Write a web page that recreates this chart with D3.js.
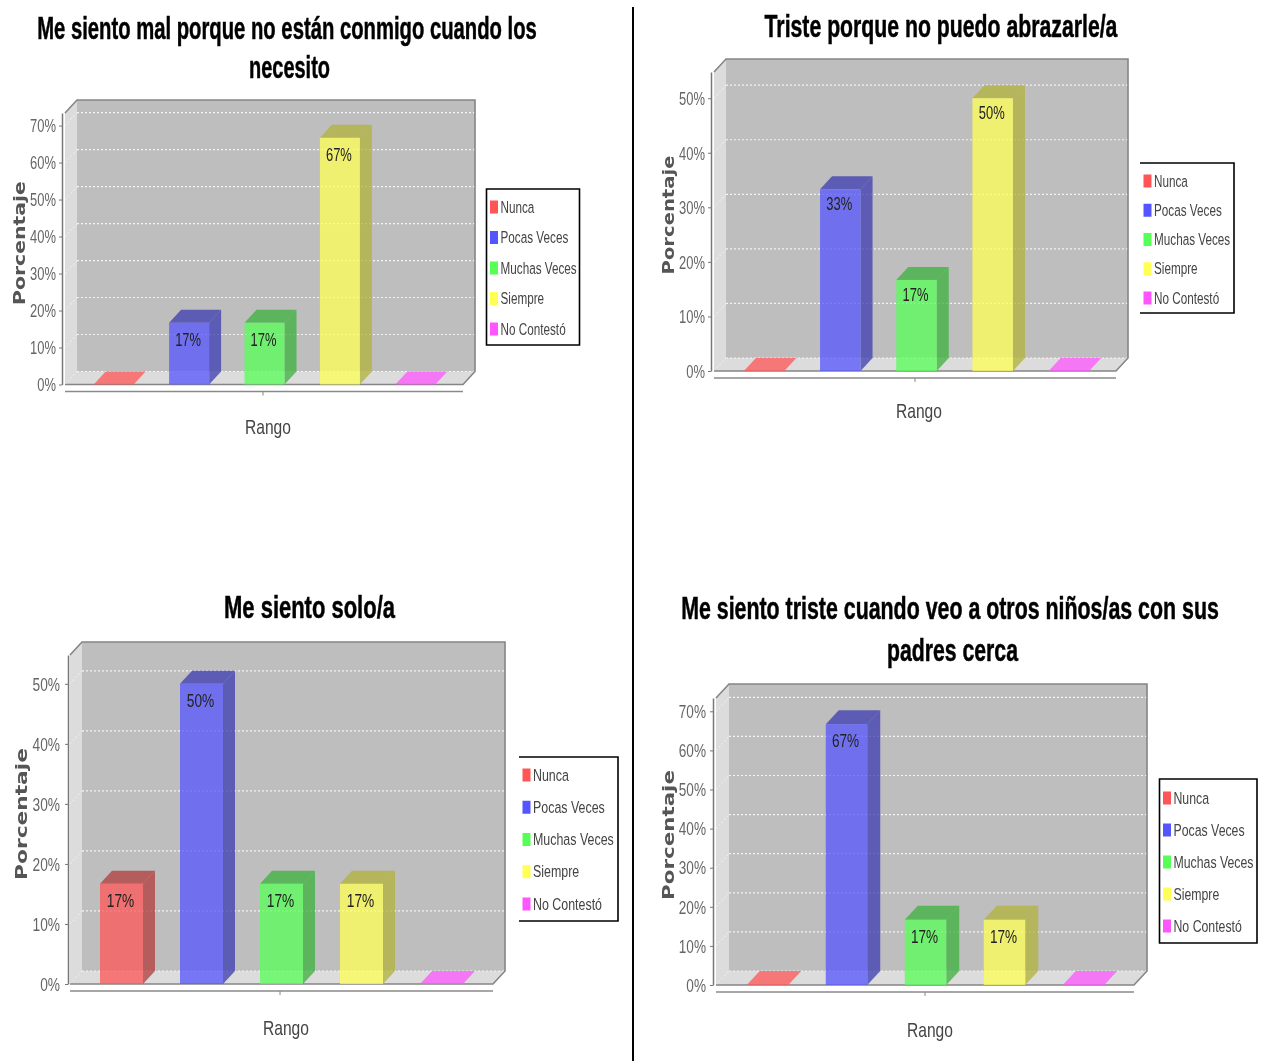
<!DOCTYPE html>
<html>
<head>
<meta charset="utf-8">
<script src="https://d3js.org/d3.v7.min.js"></script>
<style>
  body { margin: 0; background: #fff; }
  text { font-family: "Liberation Sans", sans-serif; }
</style>
</head>
<body>
<div id="chart"></div>
<script>
// datos
const rangos = ["Nunca", "Pocas Veces", "Muchas Veces", "Siempre", "No Contestó"];
const colores = ["#ff5555", "#5555ff", "#55ff55", "#ffff55", "#ff55ff"];
const oscuros = ["#b23b3b", "#3b3bb2", "#3bb23b", "#b2b23b", "#b23bb2"];

const valores1 = [0, 16.7, 16.7, 66.7, 0];
const valores2 = [0, 33.3, 16.7, 50, 0];
const valores3 = [16.7, 50, 16.7, 16.7, 0];
const valores4 = [0, 66.7, 16.7, 16.7, 0];

const ticks1 = [0, 10, 20, 30, 40, 50, 60, 70];
const ticks2 = [0, 10, 20, 30, 40, 50];

const titulo1 = ["Me siento mal porque no están conmigo cuando los", "necesito"];
const titulo2 = ["Triste porque no puedo abrazarle/a"];
const titulo3 = ["Me siento solo/a"];
const titulo4 = ["Me siento triste cuando veo a otros niños/as con sus", "padres cerca"];

// geometria de cada panel, medida en la imagen
const paneles = [
  { valores: valores1, ticks: ticks1, tope: 73.4, titulo: titulo1,
    tituloX: [287, 289.5], tituloY: [39, 78], tituloW: [500, 81],
    ejeX: 62, izq: 65, der: 463, y0: 384.5, yTop: 113, dx: 12, dy: 13, pad: 3,
    banda: [76, 453], barra: 40, etiqueta: 23, rangoX: 268, rangoY: 434, marca: 263,
    porc: [19, 243, 124], ley: [486.5, 189, 93, 156, true], leyY: [207, 329], k: 1 },
  { valores: valores2, ticks: ticks2, tope: 54.8, titulo: titulo2,
    tituloX: [941], tituloY: [37], tituloW: [353],
    ejeX: 711, izq: 714, der: 1116, y0: 371, yTop: 72, dx: 12, dy: 13, pad: 3,
    banda: [726, 1107], barra: 40.5, etiqueta: 21, rangoX: 919, rangoY: 418, marca: 915,
    porc: [668, 215, 119], ley: [1140, 163, 94, 150, false], leyY: [181, 298], k: 1 },
  { valores: valores3, ticks: ticks2, tope: 54.8, titulo: titulo3,
    tituloX: [309.5], tituloY: [618], tituloW: [171],
    ejeX: 68, izq: 70, der: 493, y0: 984, yTop: 655, dx: 12, dy: 13, pad: 5,
    banda: [81.5, 481.5], barra: 43, etiqueta: 23, rangoX: 286, rangoY: 1035, marca: 280,
    porc: [21, 814, 132], ley: [519, 757, 99, 164, false], leyY: [775, 904], k: 1.06 },
  { valores: valores4, ticks: ticks1, tope: 73.4, titulo: titulo4,
    tituloX: [950, 952.5], tituloY: [619, 661], tituloW: [538, 131],
    ejeX: 713, izq: 716, der: 1134, y0: 985, yTop: 698, dx: 13, dy: 14, pad: 4,
    banda: [728, 1123], barra: 41.5, etiqueta: 23, rangoX: 930, rangoY: 1037, marca: 925,
    porc: [668, 835, 130], ley: [1159.5, 779, 97.5, 164, true], leyY: [798, 926], k: 1.05 }
];

const svg = d3.select("#chart").append("svg")
  .attr("width", 1267).attr("height", 1061)
  .style("display", "block");

// la imagen original esta reescalada y se ve algo borrosa
svg.append("defs").append("filter").attr("id", "suave")
  .append("feGaussianBlur").attr("stdDeviation", 0.45);

const raiz = svg.append("g").attr("filter", "url(#suave)");

// encoge el texto en horizontal sin dejar de ser texto
function ajustar(sel, k) {
  sel.each(function () {
    const x = +this.getAttribute("x") || 0;
    this.setAttribute("transform", `translate(${x},0) scale(${k},1) translate(${-x},0)`);
  });
}

// igual que ajustar, pero hasta un ancho dado
function ajustarAncho(sel, ancho) {
  sel.each(function () {
    ajustar(d3.select(this), ancho / this.getComputedTextLength());
  });
}

const puntos = a => a.map(p => p.join(",")).join(" ");

function dibujarPanel(p) {
  const g = raiz.append("g");
  const y = d3.scaleLinear().domain([0, p.tope]).range([p.y0, p.yTop]);
  const paso = (p.banda[1] - p.banda[0]) / rangos.length;
  const pad = 1 - p.barra / paso;
  const x = d3.scaleBand().domain(rangos).range(p.banda).paddingInner(pad).paddingOuter(pad / 2);
  const { dx, dy, izq, der, y0, yTop } = p;

  // paredes y suelo
  g.append("polygon").attr("fill", "#dcdcdc")
    .attr("points", puntos([[izq, y0], [izq, yTop], [izq + dx, yTop - dy], [der + dx, yTop - dy], [der + dx, y0 - dy], [der, y0]]));
  g.append("rect").attr("fill", "#bebebe")
    .attr("x", izq + dx).attr("y", yTop - dy)
    .attr("width", der - izq).attr("height", y0 - yTop);

  // rejilla
  const rejilla = g.append("g").attr("fill", "none").attr("stroke", "#f4f4f4")
    .attr("stroke-width", 1.2).attr("stroke-dasharray", "2 2");
  rejilla.selectAll("line.fondo").data(p.ticks).join("line").attr("class", "fondo")
    .attr("x1", izq + dx).attr("x2", der + dx)
    .attr("y1", d => y(d) - dy).attr("y2", d => y(d) - dy);
  rejilla.selectAll("line.lado").data(p.ticks).join("line").attr("class", "lado")
    .attr("stroke-opacity", 0.6)
    .attr("x1", izq).attr("x2", izq + dx)
    .attr("y1", d => y(d)).attr("y2", d => y(d) - dy);

  g.append("polyline").attr("fill", "none").attr("stroke", "#858585").attr("stroke-width", 1.6)
    .attr("points", puntos([[izq, yTop], [izq + dx, yTop - dy], [der + dx, yTop - dy], [der + dx, y0 - dy], [der, y0], [izq, y0]]));

  // barras
  const datos = rangos.map((r, i) => ({ r, i, v: p.valores[i] }));
  const barras = g.selectAll("g.barra").data(datos).join("g").attr("class", "barra");

  barras.filter(d => d.v > 0).append("polygon")
    .attr("fill", d => oscuros[d.i]).attr("fill-opacity", 0.75)
    .attr("points", d => {
      const r = x(d.r) + x.bandwidth();
      return puntos([[r, y(d.v)], [r + dx, y(d.v) - dy], [r + dx, y0 - dy], [r, y0]]);
    });
  barras.append("polygon")
    .attr("fill", d => d.v > 0 ? oscuros[d.i] : colores[d.i]).attr("fill-opacity", 0.75)
    .attr("points", d => {
      const a = x(d.r), b = a + x.bandwidth();
      return puntos([[a, y(d.v)], [b, y(d.v)], [b + dx, y(d.v) - dy], [a + dx, y(d.v) - dy]]);
    });
  barras.filter(d => d.v > 0).append("rect")
    .attr("fill", d => colores[d.i]).attr("fill-opacity", 0.75)
    .attr("x", d => x(d.r)).attr("y", d => y(d.v))
    .attr("width", x.bandwidth()).attr("height", d => y0 - y(d.v));

  barras.filter(d => d.v > 0).append("text")
    .attr("x", d => x(d.r) + x.bandwidth() / 2 - 1).attr("y", d => y(d.v) + p.etiqueta)
    .attr("text-anchor", "middle").attr("font-size", 18).attr("fill", "#222")
    .text(d => Math.round(d.v) + "%")
    .call(ajustar, 0.72 * p.k);

  // eje vertical
  const eje = g.append("g").attr("transform", `translate(${p.ejeX},0)`)
    .call(d3.axisLeft(y).tickValues(p.ticks).tickFormat(d => d + "%").tickSize(3).tickPadding(p.pad).tickSizeOuter(0));
  eje.select(".domain").attr("stroke", "#777").attr("stroke-width", 1.5);
  eje.selectAll(".tick line").attr("stroke", "#777");
  eje.selectAll(".tick text").attr("font-size", 18).attr("fill", "#666")
    .attr("font-family", "Liberation Sans")
    .attr("y", 0.5)
    .call(ajustar, 0.72 * p.k);

  // eje horizontal
  g.append("line").attr("x1", izq).attr("x2", der)
    .attr("y1", y0 + 7).attr("y2", y0 + 7)
    .attr("stroke", "#8a8a8a").attr("stroke-width", 1.6);
  g.append("line").attr("x1", p.marca).attr("x2", p.marca)
    .attr("y1", y0 + 7).attr("y2", y0 + 11)
    .attr("stroke", "#888");
  g.append("text").attr("x", p.rangoX).attr("y", p.rangoY)
    .attr("text-anchor", "middle").attr("font-size", 20).attr("fill", "#444")
    .text("Rango").call(ajustar, 0.78);

  const etiquetaY = g.append("text")
    .attr("text-anchor", "middle").attr("font-size", 15).attr("font-weight", "bold")
    .attr("fill", "#555").style("font-family", "DejaVu Sans")
    .text("Porcentaje");
  etiquetaY.attr("transform", `translate(${p.porc[0] + 6},${p.porc[1]}) rotate(-90) scale(${p.porc[2] / etiquetaY.node().getComputedTextLength()},1)`);

  // titulo
  p.titulo.forEach((linea, i) => {
    g.append("text").attr("x", p.tituloX[i]).attr("y", p.tituloY[i])
      .attr("text-anchor", "middle").attr("font-size", 31).attr("font-weight", "bold")
      .attr("fill", "#000").attr("stroke", "#000").attr("stroke-width", 0.5)
      .text(linea)
      .call(ajustarAncho, p.tituloW[i]);
  });

  // leyenda
  const [lx, ly, lw, lh, conIzq] = p.ley;
  const caja = g.append("g").attr("fill", "none").attr("stroke", "#000").attr("stroke-width", 1.6);
  caja.append("path").attr("d", conIzq
    ? `M${lx},${ly}H${lx + lw}V${ly + lh}H${lx}Z`
    : `M${lx},${ly}H${lx + lw}V${ly + lh}H${lx}`);
  const yLey = d3.scalePoint().domain(rangos).range(p.leyY);
  const filas = g.selectAll("g.ley").data(datos).join("g").attr("class", "ley")
    .attr("transform", d => `translate(${lx + 3.5},${yLey(d.r)})`);
  filas.append("rect").attr("x", 0).attr("y", -6.5).attr("width", 8).attr("height", 13)
    .attr("fill", d => colores[d.i]);
  filas.append("text").attr("x", 10.5).attr("y", 5.5).attr("font-size", 17).attr("fill", "#444")
    .text(d => d.r).call(ajustar, 0.69 * p.k);
}

paneles.forEach(dibujarPanel);

// linea divisoria
raiz.append("line").attr("x1", 633).attr("x2", 633).attr("y1", 7).attr("y2", 1061)
  .attr("stroke", "#000").attr("stroke-width", 2);
</script>
</body>
</html>
